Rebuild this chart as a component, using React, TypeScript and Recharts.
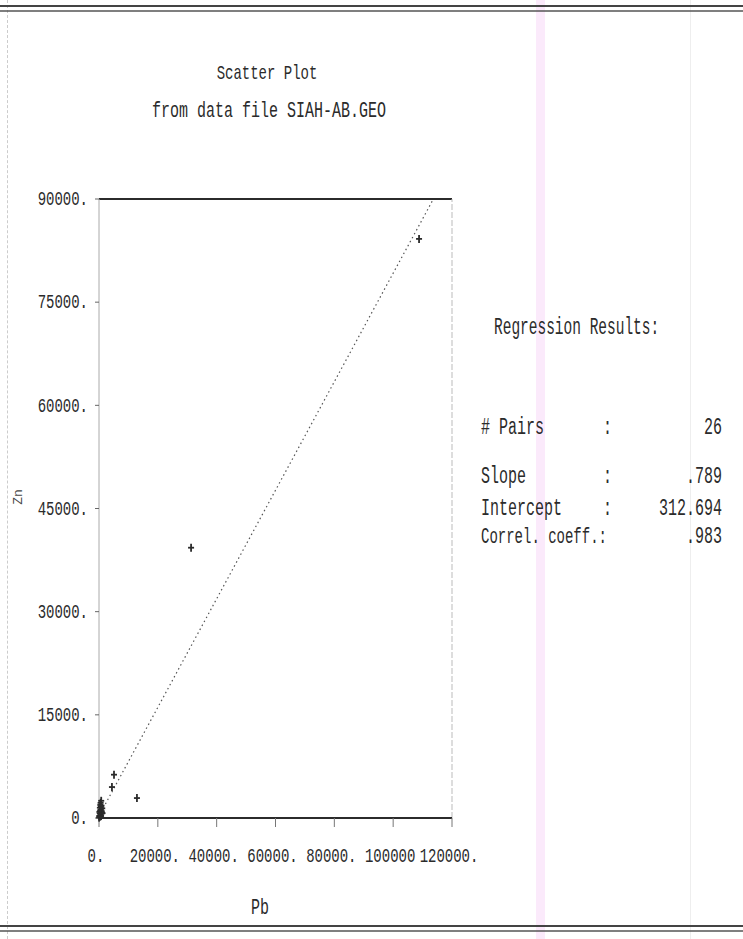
import { ScatterChart, Scatter, XAxis, YAxis, ReferenceLine } from 'recharts';

// Pb / Zn pairs (26 pairs)
const pb = [108800, 31300, 5100, 4400, 12900, 1000,
  200, 350, 500, 150, 600, 800, 300, 450, 700, 900,
  1100, 250, 550, 650, 100, 400, 750, 1200, 850, 50];
const zn = [84200, 39300, 6300, 4500, 2900, 800,
  150, 400, 250, 900, 1200, 600, 1500, 1900, 300, 1000,
  1400, 700, 2200, 1700, 300, 1100, 2500, 700, 1800, 50];

const xTicks = [0, 20000, 40000, 60000, 80000, 100000, 120000];
const xTickLabels = ['0.', '20000.', '40000.', '60000.', '80000.', '100000', '120000.'];
const yTicks = [0, 15000, 30000, 45000, 60000, 75000, 90000];
const yTickLabels = ['0.', '15000.', '30000.', '45000.', '60000.', '75000.', '90000.'];

const intercept = 312.694;
const fitEnd = [{ x: 0, y: intercept }, { x: 113670, y: 90000 }];

const results = [
  { name: '# Pairs', value: '26' },
  { name: 'Slope', value: '.789' },
  { name: 'Intercept', value: '312.694' },
  { name: 'Correl. coeff.:', value: '.983' },
];

const points = pb.map((x, i) => ({ pb: x, zn: zn[i] }));

const ink = '#2b2b2b';
const mono = '"Liberation Mono", "DejaVu Sans Mono", monospace';

const XTick = ({ x, y, payload }: any) => {
  const i = xTicks.indexOf(payload.value);
  return (
    <g transform={`translate(${x - 3},${y})`}>
      <text transform="scale(1,1.4)" y={23.5} textAnchor="middle" fontFamily={mono} fontSize={14} fill={ink}>
        {xTickLabels[i]}
      </text>
    </g>
  );
};

const YTick = ({ x, y, payload }: any) => {
  const i = yTicks.indexOf(payload.value);
  return (
    <g transform={`translate(${x},${y})`}>
      <text transform="scale(1,1.4)" y={4.5} textAnchor="end" fontFamily={mono} fontSize={14} fill={ink}>
        {yTickLabels[i]}
      </text>
    </g>
  );
};

const Plus = ({ cx, cy }: any) => (
  <g stroke={ink} strokeWidth={1.8}>
    <line x1={cx - 3} y1={cy} x2={cx + 3} y2={cy} />
    <line x1={cx} y1={cy - 4} x2={cx} y2={cy + 4} />
  </g>
);

const T = ({ x, y, children, anchor = 'start', size = 15, sy = 1.55 }: any) => (
  <g transform={`translate(${x},${y})`}>
    <text transform={`scale(1,${sy})`} textAnchor={anchor} fontFamily={mono} fontSize={size} fill={ink}>
      {children}
    </text>
  </g>
);

export default function App() {
  return (
    <div style={{ position: 'absolute', left: 0, top: 0, width: 743, height: 939, background: '#fff', overflow: 'hidden' }}>
      {/* scan artefacts */}
      <div style={{ position: 'absolute', left: 536, top: 0, width: 9, height: 939, background: 'rgba(240,170,240,0.25)' }} />
      <div style={{ position: 'absolute', left: 690, top: 0, width: 1, height: 939, background: '#eee' }} />
      <div style={{ position: 'absolute', left: 7, top: 0, width: 0, height: 939, borderLeft: '1px dashed #ccc' }} />
      <ScatterChart width={743} height={939} margin={{ top: 199, right: 291, bottom: 81, left: 9 }}>
        <XAxis
          type="number"
          dataKey="pb"
          domain={[0, 120000]}
          ticks={xTicks}
          tick={<XTick />}
          tickSize={9}
          axisLine={{ stroke: ink, strokeWidth: 2 }}
          tickLine={{ stroke: '#777' }}
          height={40}
        />
        <YAxis
          type="number"
          dataKey="zn"
          domain={[0, 90000]}
          ticks={yTicks}
          tick={<YTick />}
          tickSize={4}
          tickMargin={7}
          axisLine={{ stroke: '#aaa' }}
          tickLine={{ stroke: '#666' }}
          width={90}
        />
        <ReferenceLine y={90000} stroke={ink} strokeWidth={2} />
        <ReferenceLine x={120000} stroke="#bbb" strokeDasharray="6 2" />
        <ReferenceLine
          segment={fitEnd}
          stroke="#555"
          strokeWidth={1.2}
          strokeDasharray="1.5 3"
          ifOverflow="visible"
        />
        <Scatter data={points} shape={<Plus />} isAnimationActive={false} />
      </ScatterChart>
      <svg width={743} height={939} style={{ position: 'absolute', left: 0, top: 0, pointerEvents: 'none' }}>
        <line x1={0} y1={6} x2={743} y2={6} stroke="#444" strokeWidth={2} />
        <line x1={0} y1={11} x2={743} y2={11} stroke="#555" strokeWidth={1.5} />
        <line x1={0} y1={926} x2={743} y2={926} stroke="#444" strokeWidth={2} />
        <line x1={0} y1={931} x2={743} y2={931} stroke="#555" strokeWidth={1.5} />
        <T x={267} y={79} anchor="middle" size={14} sy={1.45}>Scatter Plot</T>
        <T x={269} y={117} anchor="middle" size={15} sy={1.45}>from data file SIAH-AB.GEO</T>
        <g transform="translate(22,497) rotate(-90)">
          <text textAnchor="middle" fontFamily={mono} fontSize={13} fill="#444">Zn</text>
        </g>
        <T x={260} y={914} anchor="middle" size={15} sy={1.45}>Pb</T>
        <T x={494} y={334} size={14.5} sy={1.6}>Regression Results:</T>
        {results.map((r, i) => {
          const y = [434, 483, 515, 543][i];
          const last = i === results.length - 1;
          return (
            <g key={r.name}>
              <T x={481} y={y} size={last ? 14 : 15}>{r.name}</T>
              {!last && <T x={603} y={y}>:</T>}
              <T x={722} y={y} anchor="end">{r.value}</T>
            </g>
          );
        })}
      </svg>
    </div>
  );
}
